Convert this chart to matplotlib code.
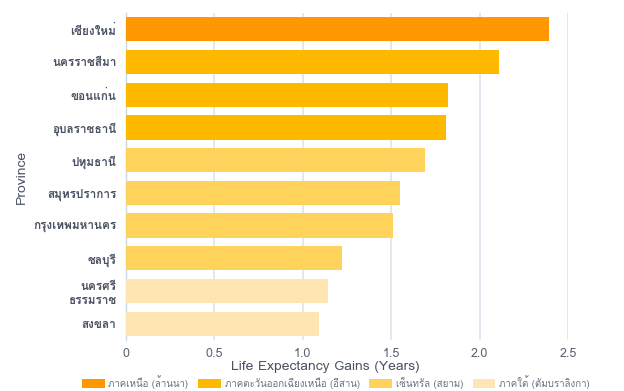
import matplotlib
matplotlib.use("Agg")
import matplotlib.pyplot as plt
from matplotlib import font_manager
from matplotlib.patches import Patch
from fontTools.ttLib import TTFont

# pick an installed font that has Thai glyphs
thai_font = None
for f in font_manager.fontManager.ttflist:
    try:
        tt = TTFont(f.fname, fontNumber=0, lazy=True)
        cmap = tt.getBestCmap()
        if cmap and 0x0E01 in cmap and 0x0E40 in cmap:
            thai_font = f.name
            break
    except Exception:
        continue

families = ["DejaVu Sans"]
if thai_font:
    families = [thai_font, "DejaVu Sans"]
plt.rcParams["font.family"] = families

provinces = ["เชียงใหม่", "นครราชสีมา", "ขอนแก่น", "อุบลราชธานี", "ปทุมธานี",
             "สมุทรปราการ", "กรุงเทพมหานคร", "ชลบุรี", "นครศรี\nธรรมราช", "สงขลา"]
gains = [2.39, 2.11, 1.82, 1.81, 1.69, 1.55, 1.51, 1.22, 1.14, 1.09]
regions = [0, 1, 1, 1, 2, 2, 2, 2, 3, 3]
region_names = ["ภาคเหนือ (ล้านนา)", "ภาคตะวันออกเฉียงเหนือ (อีสาน)",
                "เซ็นทรัล (สยาม)", "ภาคใต้ (ตัมบราลิงกา)"]
region_colors = ["#ff9800", "#ffb800", "#ffd25c", "#ffe5b2"]
xticks = [0, 0.5, 1.0, 1.5, 2.0, 2.5]

text_color = "#4a5162"

fig = plt.figure(figsize=(6.24, 3.91), dpi=100)
ax = fig.add_axes([126 / 624, 1 - 340 / 391, (568 - 126) / 624, (340 - 13) / 391])

ypos = list(range(len(provinces)))
colors = [region_colors[r] for r in regions]
ax.barh(ypos, gains, height=0.74, color=colors, zorder=3)
ax.set_ylim(len(provinces) - 0.5, -0.5)
ax.set_xlim(0, 2.5)

ax.set_yticks(ypos)
ax.set_yticklabels(provinces, fontsize=8.5, fontweight="bold", color=text_color,
                   linespacing=1.5)
ax.set_xticks(xticks)
ax.set_xticklabels(["0", "0.5", "1.0", "1.5", "2.0", "2.5"], fontsize=9, color="#5a6070")
ax.tick_params(axis="both", length=0)
ax.tick_params(axis="y", pad=7)
ax.tick_params(axis="x", pad=6)

ax.grid(axis="x", color="#dbe4ec", linewidth=1.2, zorder=0)
for s in ["top", "right", "bottom"]:
    ax.spines[s].set_visible(False)
ax.spines["left"].set_color("#c9d9e8")
ax.spines["left"].set_linewidth(1)

ax.set_xlabel("Life Expectancy Gains (Years)", fontsize=10, color=text_color)
ax.xaxis.set_label_coords((325 - 126) / (568 - 126), -0.065)
ax.set_ylabel("Province", fontsize=10, color=text_color)
ax.yaxis.set_label_coords(-(126 - 28) / (568 - 126), 0.5)

handles = [Patch(facecolor=c, edgecolor="none") for c in region_colors]
fig.legend(handles, region_names, loc="center", bbox_to_anchor=(336 / 624, 1 - 382 / 391),
           ncol=4, frameon=False, fontsize=7, handlelength=2.3, handleheight=1.1,
           columnspacing=1.0, labelcolor="#6b7080", borderaxespad=0, handletextpad=0.4)

fig.savefig("out.png", dpi=100)
